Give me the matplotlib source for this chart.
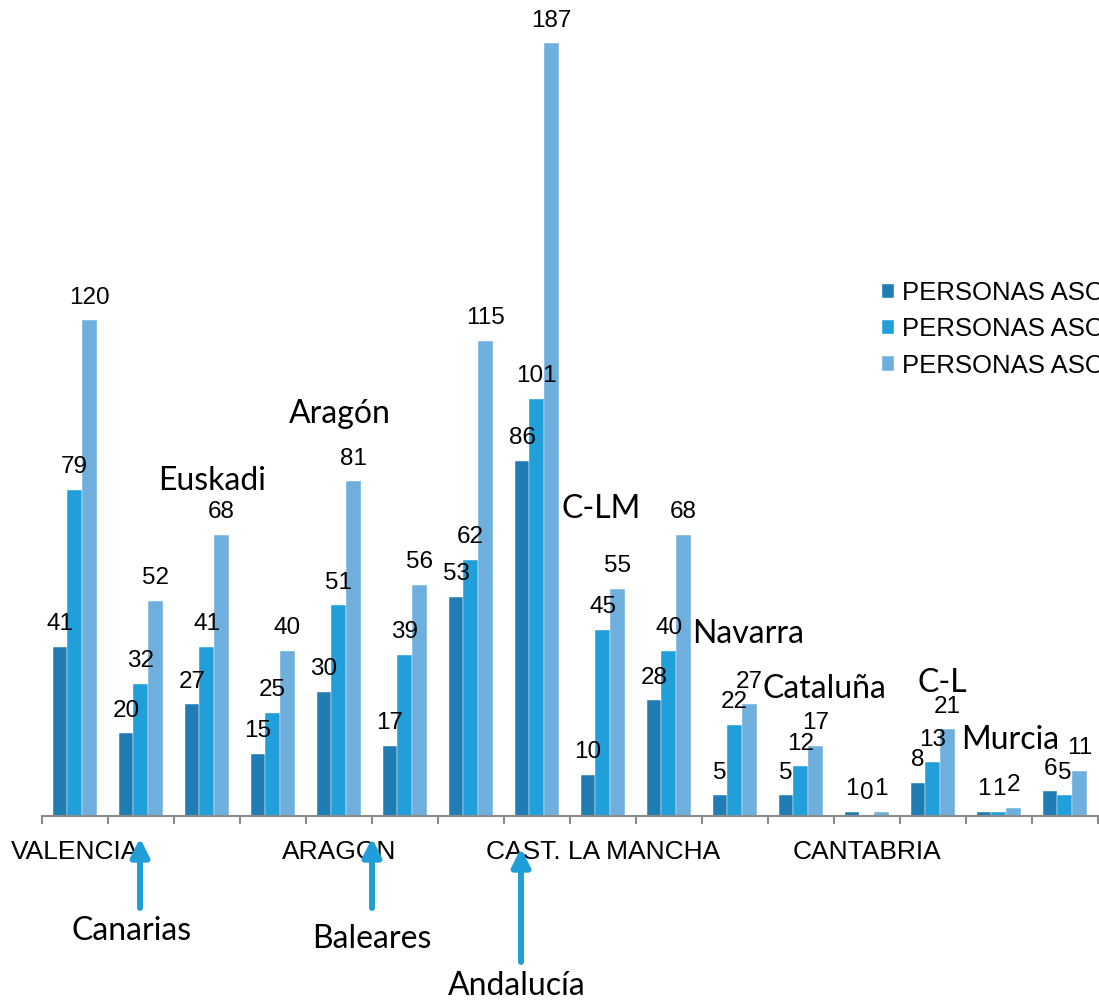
import numpy as np
import matplotlib
matplotlib.use('Agg')
import matplotlib.pyplot as plt

# datos
tick_labels = ['VALENCIA', '', '', '', 'ARAGON', '', '', '', 'CAST. LA MANCHA', '', '', '',
               'CANTABRIA', '', '', '']
serie1 = [41, 20, 27, 15, 30, 17, 53, 86, 10, 28, 5, 5, 1, 8, 1, 6]
serie2 = [79, 32, 41, 25, 51, 39, 62, 101, 45, 40, 22, 12, 0, 13, 1, 5]
serie3 = [120, 52, 68, 40, 81, 56, 115, 187, 55, 68, 27, 17, 1, 21, 2, 11]
nombres = ['PERSONAS ASOCIADAS', 'PERSONAS ASOCIADAS', 'PERSONAS ASOCIADAS']

# notas sobre el grafico (texto, x px, linea base px)
notas = [('Euskadi', 212, 490), ('Aragón', 340, 423), ('C-LM', 601, 518),
         ('Navarra', 748, 643), ('C-L', 942, 692), ('Murcia', 1010, 749),
         ('Canarias', 132, 940), ('Baleares', 372, 948), ('Andalucía', 517, 995)]
# flechas (x px, y inicio px, y punta px)
flechas = [(140, 908, 838), (372, 908, 838), (521, 962, 848)]

colores = ['#1F7DB3', '#219FDA', '#6FAFDE']
W, H = 1099, 1001

fig = plt.figure(figsize=(W / 100, H / 100), dpi=100)
ax = fig.add_axes([41.7 / W, (H - 816) / H, 1056 / W, 816 / H])

x = np.arange(len(serie1))
ancho = 0.2222
for k, (vals, col, nom) in enumerate(zip([serie1, serie2, serie3], colores, nombres)):
    pos = x + (k - 1) * ancho
    ax.bar(pos, vals, ancho, color=col, label=nom, edgecolor='white', linewidth=0.3)
    for p, v in zip(pos, vals):
        ax.annotate(str(v), xy=(p, v), xytext=(0, 12), textcoords='offset points',
                    ha='center', va='baseline', fontsize=17.5, family='Liberation Sans')

ax.set_xlim(-0.5, len(serie1) - 0.5)
ax.set_ylim(0, 197.5)
for s in ['left', 'top', 'right']:
    ax.spines[s].set_visible(False)
ax.spines['bottom'].set_color('#8C8C8C')
ax.spines['bottom'].set_linewidth(1.5)
ax.set_yticks([])

ax.set_xticks(np.arange(-0.5, len(serie1), 1.0))
ax.set_xticklabels([])
ax.tick_params(axis='x', which='major', length=6, width=1.5, color='#8C8C8C', direction='out')
ax.set_xticks(x, minor=True)
ax.set_xticklabels(tick_labels, minor=True, fontsize=19, family='Liberation Sans')
ax.tick_params(axis='x', which='minor', length=0, pad=17)

leg = ax.legend(loc='upper left', frameon=False,
                prop={'family': 'Liberation Sans', 'size': 18.5},
                handlelength=0.47, handleheight=0.47, handletextpad=0.3, labelspacing=0.48,
                borderpad=0, borderaxespad=0)
leg.set_bbox_to_anchor((882 / W, (H - 281) / H), transform=fig.transFigure)

for txt, px, py in notas:
    fig.text(px / W, 1 - py / H, txt, ha='center', va='baseline', fontsize=23, family='Lato')
fig.text(824 / W, 1 - 698 / H, 'Cataluña', ha='center', va='baseline', fontsize=23,
         family='Lato', bbox=dict(facecolor='white', edgecolor='none', pad=1))

for fx, y0, y1 in flechas:
    ax.annotate('', xy=(fx, H - y1), xytext=(fx, H - y0), xycoords='figure pixels',
                textcoords='figure pixels', annotation_clip=False,
                arrowprops=dict(arrowstyle='-|>', lw=4.3, color='#1F9ED9',
                                mutation_scale=27, shrinkA=0, shrinkB=0))

plt.savefig('out.png', dpi=100)
